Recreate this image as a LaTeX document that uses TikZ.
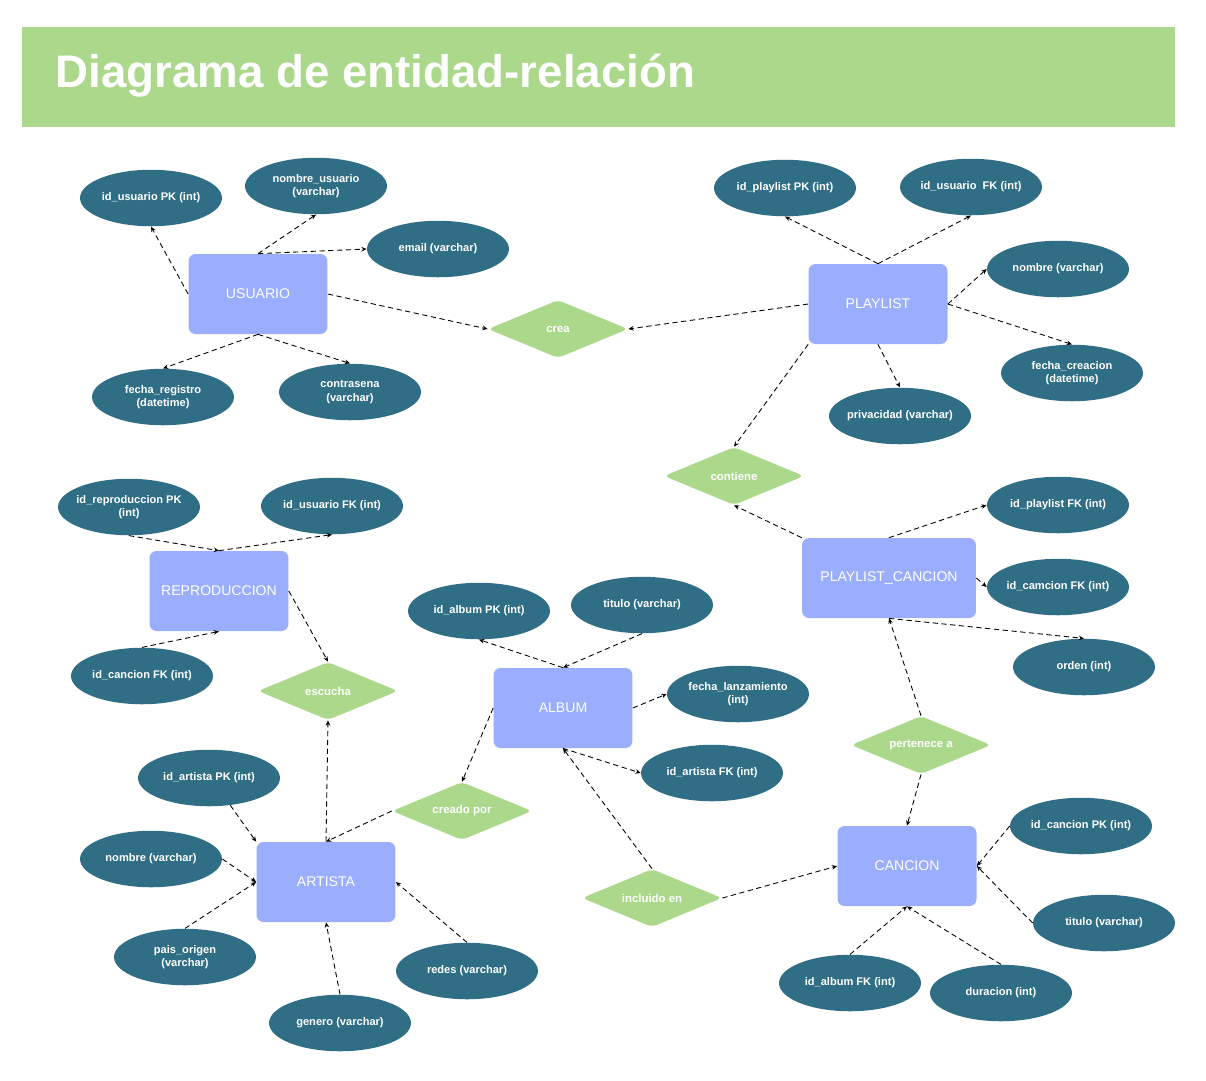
\documentclass[tikz,border=0pt]{standalone}
\usepackage{fontspec}
\setmainfont{Liberation Sans}
\usepackage{xcolor}
\usetikzlibrary{shapes.geometric}
\usetikzlibrary{arrows.meta}
\definecolor{verdeER}{HTML}{ABD88A}
\definecolor{azulER}{HTML}{9AAEFD}
\definecolor{petroleoER}{HTML}{306E86}
\tikzset{
  entidad/.style={
      rectangle, rounded corners=4pt, fill=azulER, text=white,
      minimum width=2.78cm, minimum height=1.6cm,
      font=\fontsize{8}{9.6}\selectfont
    },
  atributo/.style={
      ellipse, fill=petroleoER, text=white, inner sep=-3pt, align=center,
      minimum width=2.84cm, minimum height=1.13cm,
      font=\fontsize{6.3}{7.8}\selectfont\bfseries
    },
  relacion/.style={
      diamond, aspect=2.4, rounded corners=3pt, fill=verdeER, text=white,
      inner sep=0pt, minimum width=2.8cm, minimum height=1.16cm,
      font=\fontsize{6.5}{7.8}\selectfont\bfseries
    },
  enlace/.style={
      densely dashed, line width=0.5pt,
      -{Stealth[length=3pt, width=2.6pt]}
    }
}

\begin{document}
\begin{tikzpicture}[x=0.02cm, y=-0.02cm]
		\path[use as bounding box, fill=white] (0,0) rectangle (1206,1080);

		% Title banner
		\fill[verdeER] (22,27) rectangle (1175,127);
		\node[anchor=west, inner sep=0pt, text=white, font=\fontsize{26}{30}\selectfont\bfseries] (titulo) at (55,76) {Diagrama de entidad-relación};

		% Entities
		\node[entidad] (usuario) at (258,294) {USUARIO};
		\node[entidad] (playlist) at (878,304) {PLAYLIST};
		\node[entidad] (repro) at (219,591) {REPRODUCCION};
		\node[entidad, minimum width=3.48cm] (plcan) at (889,578) {PLAYLIST\_CANCION};
		\node[entidad] (album) at (563,708) {ALBUM};
		\node[entidad] (artista) at (326,882) {ARTISTA};
		\node[entidad] (cancion) at (907,866) {CANCION};

		% Relationships
		\node[relacion] (crea) at (558,329) {crea};
		\node[relacion] (contiene) at (734,476) {contiene};
		\node[relacion] (escucha) at (328,691) {escucha};
		\node[relacion] (creado) at (462,811) {creado por};
		\node[relacion] (incluido) at (652,898) {incluido en};
		\node[relacion] (pertenece) at (921,745) {pertenece a};

		% Attributes
		\foreach \id/\px/\py/\txt in {
				usid/151/198/{id\_usuario PK (int)},
				usnom/316/186/{nombre\_usuario\\(varchar)},
				usmail/438/249/{email (varchar)},
				usfecha/163/397/{fecha\_registro\\(datetime)},
				uspass/350/392/{contrasena\\(varchar)},
				plid/785/188/{id\_playlist PK (int)},
				plus/971/187/{id\_usuario\ \ FK (int)},
				plnom/1058/269/{nombre (varchar)},
				plfecha/1072/373/{fecha\_creacion\\(datetime)},
				plpriv/900/416/{privacidad (varchar)},
				reid/129/507/{id\_reproduccion PK\\(int)},
				reus/332/506/{id\_usuario FK (int)},
				recan/142/676/{id\_cancion FK (int)},
				alid/479/611/{id\_album PK (int)},
				altit/642/605/{titulo (varchar)},
				alfecha/738/694/{fecha\_lanzamiento\\(int)},
				alart/712/773/{id\_artista FK (int)},
				arid/209/778/{id\_artista PK (int)},
				arnom/151/859/{nombre (varchar)},
				arpais/185/957/{pais\_origen\\(varchar)},
				argen/340/1023/{genero (varchar)},
				arred/467/971/{redes (varchar)},
				pcpl/1058/505/{id\_playlist FK (int)},
				pccan/1058/587/{id\_camcion FK (int)},
				pcord/1084/667/{orden (int)},
				caid/1081/826/{id\_cancion PK (int)},
				catit/1104/923/{titulo (varchar)},
				caalb/850/983/{id\_album FK (int)},
				cadur/1001/993/{duracion (int)}} {
				\node[atributo] (\id) at (\px,\py) {\txt};
			}

		% Connectors
		\foreach \a/\b in {
				usuario.west/usid.south, usuario.north/usnom.south, usuario.north/usmail.west,
				usuario.east/crea.west, usuario.south/usfecha.north, usuario.south/uspass.north,
				playlist.north/plid.south, playlist.north/plus.south, playlist.east/plnom.west,
				playlist.east/plfecha.north, playlist.south/plpriv.north, playlist.west/crea.east,
				playlist.south west/contiene.north,
				plcan.north west/contiene.south, plcan.north/pcpl.west, plcan.east/pccan.west,
				plcan.south/pcord.north, pertenece.north/plcan.south, pertenece.south/cancion.north,
				reid.south/repro.north, repro.north/reus.south, recan.north/repro.south,
				repro.east/escucha.north,
				artista.north/escucha.south, creado.west/artista.north, album.west/creado.north,
				arid.-52/artista.north west, arnom.east/artista.west, arpais.north/artista.west,
				argen.north/artista.south, arred.north/artista.east,
				album.north/alid.south, altit.south/album.north, album.east/alfecha.west,
				album.south/alart.west, incluido.north/album.south, incluido.east/cancion.west,
				caid.west/cancion.east, catit.west/cancion.east, caalb.north/cancion.south,
				cadur.north/cancion.south} {
				\draw[enlace] (\a) -- (\b);
			}
	\end{tikzpicture}
\end{document}
